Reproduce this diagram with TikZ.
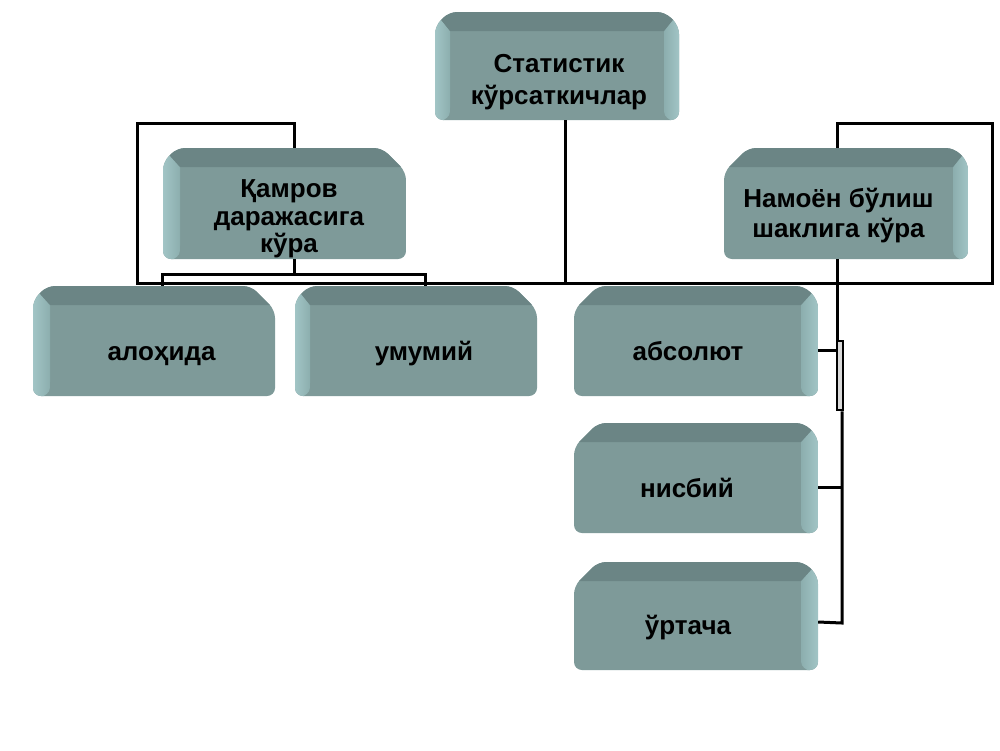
\documentclass[tikz,border=0pt]{standalone}
\usepackage{fontspec}
\setmainfont{Liberation Sans}
\definecolor{face}{HTML}{7E9A99}
\definecolor{topc}{HTML}{6B8585}
\definecolor{sideo}{HTML}{A3C6C7}
\definecolor{sidei}{HTML}{8CAEAE}
\definecolor{brkc}{HTML}{D9D9D9}
\tikzset{
  boxnode/.style={rectangle, inner sep=0pt, draw=none},
  lbl/.style={inner sep=0pt, align=center, text=black},
  conn/.style={line width=3pt, black},
}
% #1 name, #2 x0, #3 y0, #4 x1, #5 y1, #6 left strip, #7 right strip, #8 left chamfer, #9 right chamfer
\newcommand\bevelbox[9]{%
  \begin{scope}
    \clip[rounded corners=8pt] (#2,#3+#8) -- (#2+#8,#3) -- (#4-#9,#3) -- (#4,#3+#9) -- (#4,#5) -- (#2,#5) -- cycle;
    \fill[face] (#2-1,#3-1) rectangle (#4+1,#5+1);
    \ifdim#6pt>0pt
      \shade[left color=sideo,right color=sidei] (#2-1,#3-1) -- (#2+#6,#3+19) -- (#2+#6,#5-14) .. controls (#2+#6,#5-4) .. (#2+#6-8,#5+1) -- (#2-1,#5+1) -- cycle;
    \fi
    \ifdim#7pt>0pt
      \shade[left color=sidei,right color=sideo] (#4+1,#3-1) -- (#4-#7,#3+19) -- (#4-#7,#5-14) .. controls (#4-#7,#5-4) .. (#4-#7+8,#5+1) -- (#4+1,#5+1) -- cycle;
    \fi
    \fill[topc] (#2-1,#3-1) -- (#4+1,#3-1) -- (#4-#7,#3+19) -- (#2+#6,#3+19) -- cycle;
  \end{scope}
  \node[boxnode, minimum width={#4-#2}, minimum height={#5-#3}] (#1) at ({(#2+#4)/2},{(#3+#5)/2}) {};
}
\begin{document}
\begin{tikzpicture}[x=1pt,y=-1pt, font={\fontsize{26}{31.7}\selectfont\bfseries}]
\useasboundingbox[fill=white] (0,0) rectangle (1000,750);

% boxes
\bevelbox{top}{435}{12}{679}{120}{15}{15}{14}{14}
\bevelbox{kam}{163}{148}{406}{259}{17}{0}{14}{24}
\bevelbox{nam}{724}{148}{968}{259}{0}{15}{24}{14}
\bevelbox{alo}{33}{286}{275}{396}{17}{0}{14}{24}
\bevelbox{umu}{295}{286}{537}{396}{15}{0}{14}{24}
\bevelbox{abs}{574}{286}{818}{396}{0}{17}{24}{14}
\bevelbox{nis}{574}{423}{818}{533}{0}{17}{24}{14}
\bevelbox{urt}{574}{562}{818}{670}{0}{17}{24}{14}

% labels
\node[lbl] (top-t) at (559,82) {Статистик\\кўрсаткичлар};
\node[lbl, font={\fontsize{26}{27.5}\selectfont\bfseries}] (kam-t) at (289,219) {Қамров\\даражасига\\кўра};
\node[lbl, font={\fontsize{26}{30}\selectfont\bfseries}] (nam-t) at (838.5,215.5) {Намоён бўлиш\\шаклига кўра};
\node[lbl, anchor=base] (alo-t) at (161.5,360) {алоҳида};
\node[lbl, anchor=base] (umu-t) at (424,360) {умумий};
\node[lbl, anchor=base] (abs-t) at (688,360) {абсолют};
\node[lbl, anchor=base] (nis-t) at (687,497) {нисбий};
\node[lbl, anchor=base] (urt-t) at (688,634) {ўртача};

% connectors
\coordinate (lt) at (137,123);
\coordinate (lb) at (137,283);
\coordinate (rb) at (992,283);
\coordinate (rt) at (992,123);
\coordinate (tj) at (565,283);
\coordinate (kb) at (294,274);
\coordinate (vb) at (842,623);

\draw[conn] ([xshift=8pt]top.south) -- (tj);
\draw[conn] ([xshift=9.5pt]kam.north) |- (lt) -- (lb) -- (rb) -- (rt) -| ([xshift=-9pt]nam.north);
\draw[conn] ([xshift=9.5pt]kam.south) -- (kb);
\draw[conn] ([xshift=8pt]alo.north) |- (kb) -| ([xshift=9pt]umu.north);
\draw[conn] ([xshift=-9pt]nam.south) |- ([yshift=-9pt]abs.east);
\node[draw, fill=brkc, line width=2.5pt, minimum width=6pt, minimum height=69pt, inner sep=0pt] (brk) at (840,375.5) {};
\draw[conn] ([xshift=2pt]brk.south) -- (vb) -- ([yshift=-6pt]urt.east);
\draw[conn] ([yshift=-9pt]nis.east) -- ([yshift=-9pt]nis.east -| vb);
\end{tikzpicture}
\end{document}
